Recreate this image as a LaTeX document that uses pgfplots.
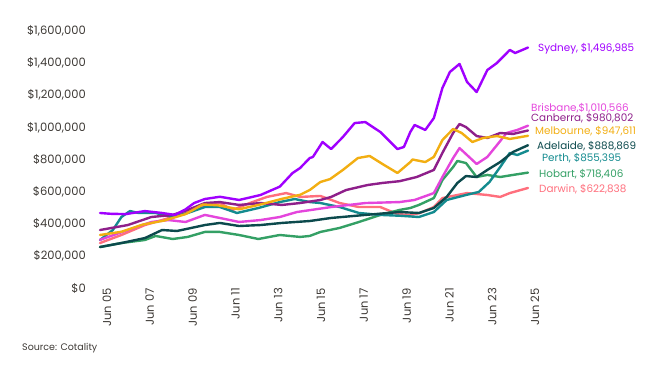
\documentclass[border=0pt]{standalone}
\usepackage{pgfplots}
\pgfplotsset{compat=1.18}
\usepackage{fontspec}
\setmainfont{Poppins}
\definecolor{sydney}{HTML}{A000FF}
\definecolor{brisbane}{HTML}{E445DC}
\definecolor{canberra}{HTML}{8E1F8A}
\definecolor{melbourne}{HTML}{F2AE12}
\definecolor{adelaide}{HTML}{0C4A4D}
\definecolor{perth}{HTML}{148B8F}
\definecolor{hobart}{HTML}{34A065}
\definecolor{darwin}{HTML}{FF6F7D}
\definecolor{txt}{HTML}{3D3935}
\begin{document}
\begin{tikzpicture}[x=1bp,y=1bp]
\path[use as bounding box] (0,0) rectangle (660,365);
\begin{axis}[
  at={(100bp,77bp)}, anchor=south west,
  scale only axis, width=428bp, height=257bp,
  xmin=2005.5, xmax=2025.5, ymin=0, ymax=1600000,
  clip=false,
  axis line style={draw=none}, tick style={draw=none},
  major tick length=0pt,
  scaled y ticks=false, scaled x ticks=false,
  xtick={2005.5,2007.5,2009.5,2011.5,2013.5,2015.5,2017.5,2019.5,2021.5,2023.5,2025.5},
  xticklabels={Jun 05,Jun 07,Jun 09,Jun 11,Jun 13,Jun 15,Jun 17,Jun 19,Jun 21,Jun 23,Jun 25},
  ytick={0,200000,400000,600000,800000,1000000,1200000,1400000,1600000},
  yticklabels={\$0,{\$200,000},{\$400,000},{\$600,000},{\$800,000},{\$1,000,000},{\$1,200,000},{\$1,400,000},{\$1,600,000}},
  ticklabel style={font=\fontsize{11.5bp}{13bp}\selectfont, text=txt, inner sep=0pt},
  yticklabel style={anchor=east, xshift=-14bp},
  xticklabel style={rotate=90, anchor=east, yshift=-7bp},
  every axis plot/.append style={line width=2.4bp, line join=round, line cap=round, no markers},
]
\addplot[color=darwin] coordinates {
(2005.5,280000)(2006.5,330000)(2007.6,392000)(2008.4,423000)(2009.5,467000)(2010.3,510000)
(2011.1,529000)(2011.7,486000)(2012.5,529000)(2013.3,567000)(2014.2,591000)(2014.85,567000)
(2015.8,573000)(2016.7,529000)(2017.6,504000)(2018.6,504000)(2019.4,460000)(2020.0,455000)
(2020.45,467000)(2021.1,504000)(2021.5,560000)(2022.65,591000)(2023.6,579000)(2024.2,567000)
(2024.65,591000)(2025.5,622838)};
\addplot[color=hobart] coordinates {
(2005.5,255000)(2006.5,280000)(2007.6,299000)(2008.1,324000)(2008.9,305000)(2009.6,318000)
(2010.4,349000)(2011.1,349000)(2012.0,330000)(2012.9,305000)(2013.9,330000)(2014.85,318000)
(2015.3,324000)(2015.8,349000)(2016.7,374000)(2017.6,411000)(2018.6,455000)(2019.5,486000)
(2020.0,498000)(2020.4,517000)(2021.1,560000)(2021.5,672000)(2022.0,753000)(2022.2,791000)
(2022.6,778000)(2023.1,691000)(2023.6,704000)(2024.2,691000)(2024.8,704000)(2025.5,718406)};
\addplot[color=perth] coordinates {
(2005.5,299000)(2006.1,361000)(2006.5,442000)(2006.9,479000)(2007.3,467000)(2008.1,467000)
(2008.9,442000)(2009.6,467000)(2010.4,504000)(2011.1,504000)(2011.9,467000)(2012.9,498000)
(2013.9,535000)(2014.6,554000)(2015.3,535000)(2015.8,529000)(2016.7,504000)(2017.6,467000)
(2018.6,455000)(2019.5,450000)(2020.4,442000)(2021.1,473000)(2021.7,548000)(2022.6,579000)
(2023.2,598000)(2023.7,660000)(2024.2,753000)(2024.65,841000)(2025.0,828000)(2025.5,855395)};
\addplot[color=adelaide] coordinates {
(2005.5,255000)(2006.5,280000)(2007.6,311000)(2008.4,361000)(2009.1,355000)(2010.4,392000)
(2011.1,405000)(2012.0,386000)(2013.0,392000)(2014.0,405000)(2015.3,417000)(2016.3,436000)
(2017.9,455000)(2019.5,473000)(2020.4,467000)(2021.1,498000)(2021.7,567000)(2022.2,654000)
(2022.6,697000)(2023.1,691000)(2023.6,735000)(2024.2,784000)(2024.8,847000)(2025.5,888869)};
\addplot[color=brisbane] coordinates {
(2005.5,300000)(2006.8,361000)(2007.9,411000)(2008.7,423000)(2009.5,411000)(2010.4,455000)
(2011.1,436000)(2012.0,411000)(2013.0,423000)(2013.9,442000)(2014.7,473000)(2016.3,504000)
(2017.9,529000)(2019.5,535000)(2020.2,548000)(2021.1,591000)(2021.5,691000)(2022.0,809000)
(2022.3,871000)(2022.6,834000)(2023.1,772000)(2023.6,816000)(2024.05,890000)(2024.5,965000)
(2025.0,984000)(2025.5,1010566)};
\addplot[color=canberra] coordinates {
(2005.5,361000)(2006.8,392000)(2007.9,442000)(2008.9,455000)(2009.6,486000)(2010.4,529000)
(2011.1,535000)(2012.0,517000)(2013.0,529000)(2014.0,517000)(2014.85,529000)(2015.8,548000)
(2016.3,567000)(2017.0,610000)(2018.0,641000)(2018.7,654000)(2019.5,665000)(2020.3,691000)
(2021.1,735000)(2021.5,841000)(2022.0,965000)(2022.3,1021000)(2022.6,1002000)(2023.1,946000)
(2023.6,934000)(2024.2,965000)(2024.8,959000)(2025.5,980802)};
\addplot[color=melbourne] coordinates {
(2005.5,330000)(2006.5,350000)(2007.5,395000)(2008.5,420000)(2009.5,460000)(2010.3,520000)
(2011.0,515000)(2012.0,490000)(2013.0,520000)(2014.0,555000)(2014.85,580000)(2015.3,610000)
(2015.8,660000)(2016.25,678000)(2016.85,735000)(2017.55,809000)(2018.1,822000)(2018.7,772000)
(2019.4,716000)(2020.0,784000)(2020.1,800000)(2020.7,784000)(2021.1,816000)(2021.5,921000)
(2022.0,990000)(2022.4,965000)(2022.9,909000)(2023.4,934000)(2024.05,946000)(2024.65,928000)
(2025.5,947611)};
\addplot[color=sydney] coordinates {
(2005.5,467000)(2006.0,462000)(2006.7,460000)(2007.6,479000)(2008.4,467000)(2009.0,455000)
(2009.5,490000)(2009.9,529000)(2010.4,554000)(2011.1,568000)(2012.0,548000)(2013.0,579000)
(2013.9,631000)(2014.5,716000)(2014.85,747000)(2015.3,809000)(2015.45,816000)(2015.9,909000)
(2016.3,865000)(2016.85,940000)(2017.4,1027000)(2017.9,1033000)(2018.6,971000)(2019.4,865000)
(2019.7,878000)(2020.0,971000)(2020.2,1015000)(2020.7,984000)(2021.1,1058000)(2021.5,1245000)
(2021.85,1345000)(2022.3,1395000)(2022.65,1283000)(2023.1,1220000)(2023.6,1357000)
(2024.05,1401000)(2024.65,1482000)(2024.9,1463000)(2025.5,1496985)};
\end{axis}
\begin{scope}[every node/.style={anchor=west, inner sep=0pt, font=\fontsize{10.4bp}{12bp}\selectfont}]
\node[text=sydney] at (538,316) {Sydney, \$1,496,985};
\node[text=brisbane] at (531,257) {Brisbane,\$1,010,566};
\node[text=canberra] at (531,247) {Canberra, \$980,802};
\node[text=melbourne] at (535,234) {Melbourne, \$947,611};
\node[text=adelaide] at (537,219) {Adelaide, \$888,869};
\node[text=perth] at (542,207) {Perth, \$855,395};
\node[text=hobart] at (539,191) {Hobart, \$718,406};
\node[text=darwin] at (539,176) {Darwin, \$622,838};
\end{scope}
\node[anchor=west, inner sep=0pt, text=txt, font=\fontsize{9.5bp}{11bp}\selectfont] at (22,17) {Source: Cotality};
\end{tikzpicture}
\end{document}
